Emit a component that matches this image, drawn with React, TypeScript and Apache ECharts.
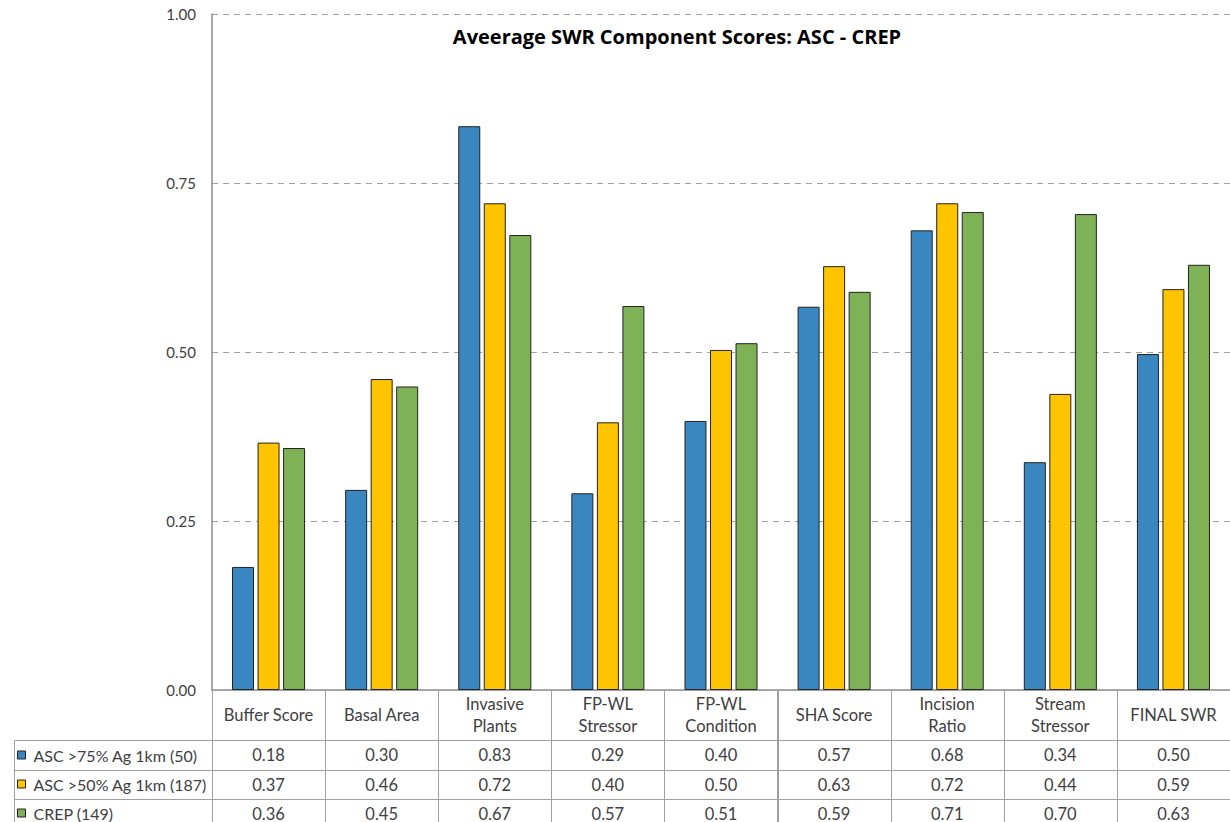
import React, { useEffect, useRef } from "react";
import * as echarts from "echarts";

const chartTitle = "Aveerage SWR Component Scores: ASC - CREP";
const categories = [
  "Buffer Score",
  "Basal Area",
  "Invasive\nPlants",
  "FP-WL\nStressor",
  "FP-WL\nCondition",
  "SHA Score",
  "Incision\nRatio",
  "Stream\nStressor",
  "FINAL SWR",
];
const seriesNames = ["ASC >75% Ag 1km (50)", "ASC >50% Ag 1km (187)", "CREP (149)"];
const asc75 = [0.182, 0.296, 0.834, 0.291, 0.398, 0.567, 0.68, 0.337, 0.497];
const asc50 = [0.366, 0.46, 0.72, 0.396, 0.503, 0.627, 0.72, 0.438, 0.593];
const crep = [0.358, 0.449, 0.673, 0.568, 0.513, 0.589, 0.707, 0.704, 0.629];
const yTicks = [0, 0.25, 0.5, 0.75, 1.0];

const colors = ["#3A86C0", "#FFC400", "#7FB257"];
const FONT = "Lato, 'Open Sans', sans-serif";
const TITLE_FONT = "'Open Sans', Lato, sans-serif";
const TEXT = "#404040";
const GRID_LINE = "#A0A0A0";

// table row bounds, in the table's own vertical scale (0 at top of table)
const rowBounds = [
  [0, 50],
  [50, 80],
  [80, 109],
  [109, 139],
];

export default function App() {
  const ref = useRef<HTMLDivElement>(null);
  useEffect(() => {
    if (!ref.current) return;
    const chart = echarts.init(ref.current, null, { renderer: "svg" });
    const values = [asc75, asc50, crep];
    const tableData: number[][] = [];
    const tableText: string[] = [];
    categories.forEach((c, ci) => {
      tableData.push([ci, 0]);
      tableText.push(c);
      values.forEach((arr, si) => {
        tableData.push([ci, si + 1]);
        tableText.push(arr[ci].toFixed(2));
      });
    });

    const option: any = {
      animation: false,
      textStyle: { fontFamily: FONT },
      title: {
        text: chartTitle,
        left: 672,
        top: 21,
        textAlign: "center",
        textStyle: { fontFamily: TITLE_FONT, fontWeight: "bold", fontSize: 20, color: "#000" },
      },
      legend: {
        data: seriesNames,
        orient: "vertical",
        left: 17,
        top: 747,
        height: 120,
        padding: 0,
        icon: "rect",
        itemWidth: 8,
        itemHeight: 8,
        itemGap: 13,
        itemStyle: { borderColor: "#222", borderWidth: 1 },
        textStyle: { fontFamily: FONT, fontSize: 16, color: TEXT, lineHeight: 16, padding: [0, 0, 0, 3] },
        selectedMode: false,
      },
      grid: [
        { left: 212, top: 14, width: 1026, height: 676, containLabel: false },
        { left: 212, top: 690, width: 1026, height: 132, containLabel: false },
      ],
      xAxis: [
        {
          type: "category",
          gridIndex: 0,
          data: categories,
          axisLine: { show: true, lineStyle: { color: "#8C8C8C", width: 1.5 } },
          axisTick: { show: false },
          axisLabel: { show: false },
        },
        {
          type: "category",
          gridIndex: 1,
          data: categories,
          show: false,
        },
      ],
      yAxis: [
        {
          type: "value",
          gridIndex: 0,
          min: 0,
          max: 1,
          interval: 0.25,
          axisLine: { show: true, lineStyle: { color: "#8C8C8C", width: 1.5 } },
          axisTick: { show: false },
          axisLabel: {
            margin: 16,
            fontSize: 15,
            color: TEXT,
            fontFamily: FONT,
            formatter: (v: number) => (yTicks.includes(v) ? v.toFixed(2) : ""),
          },
          splitLine: { show: true, lineStyle: { color: "#A0A0A0", type: [6, 5], width: 1.2 } },
        },
        {
          type: "value",
          gridIndex: 1,
          min: 0,
          max: 132,
          inverse: true,
          show: false,
        },
      ],
      series: [
        ...values.map((arr, si) => ({
          type: "bar",
          name: seriesNames[si],
          data: arr,
          xAxisIndex: 0,
          yAxisIndex: 0,
          barWidth: 22,
          barGap: "16%",
          itemStyle: { color: colors[si], borderColor: "#222", borderWidth: 1 },
        })),
        {
          type: "custom",
          xAxisIndex: 1,
          yAxisIndex: 1,
          clip: false,
          silent: true,
          data: tableData,
          renderItem: (params: any, api: any) => {
            const ci = api.value(0);
            const ri = api.value(1);
            const cx = api.coord([ci, 0])[0];
            const w = api.size([1, 0])[0];
            const [y0, y1] = rowBounds[ri];
            const top = api.coord([ci, y0])[1];
            const bot = api.coord([ci, y1])[1];
            const text = tableText[params.dataIndex];
            const isHeader = ri === 0;
            return {
              type: "group",
              children: [
                {
                  type: "rect",
                  shape: { x: Math.round(cx - w / 2) + 0.5, y: Math.round(top) + 0.5, width: Math.round(w), height: Math.round(bot - top) },
                  style: { fill: "none", stroke: GRID_LINE, lineWidth: 1 },
                },
                {
                  type: "text",
                  style: {
                    text,
                    x: cx,
                    y: isHeader ? (top + bot) / 2 : top + 14.5,
                    align: "center",
                    verticalAlign: "middle",
                    fontSize: 16.5,
                    fontFamily: FONT,
                    fill: TEXT,
                    lineHeight: isHeader ? 22 : 16,
                  },
                },
              ],
            };
          },
        },
      ],
      graphic: [
        ...[0, 1, 2].map((i) => ({
          type: "rect",
          silent: true,
          shape: { x: 14.5, y: 740.5 + [0, 30, 59][i], width: 198, height: [30, 29, 30][i] },
          style: { fill: "none", stroke: GRID_LINE, lineWidth: 1 },
        })),
      ],
    };
    chart.setOption(option);
    return () => chart.dispose();
  }, []);
  return (
    <div
      ref={ref}
      style={{ position: "absolute", left: 0, top: 0, width: 1230, height: 822, background: "#fff" }}
    />
  );
}
